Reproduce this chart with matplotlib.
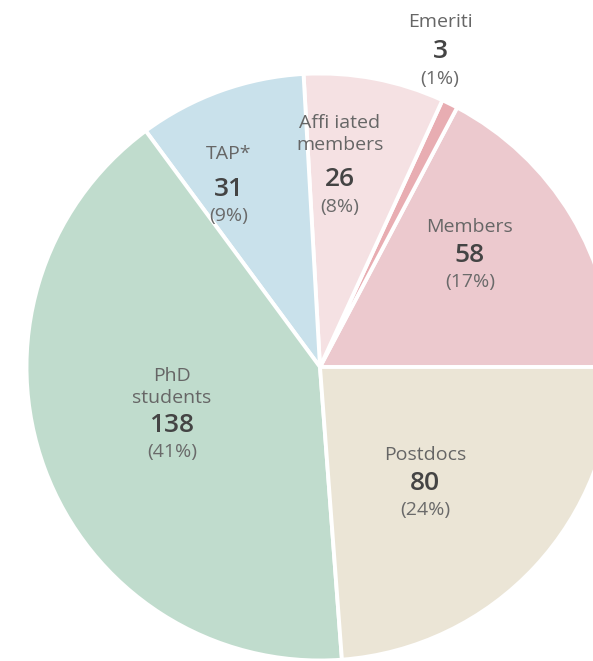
import matplotlib
matplotlib.use('Agg')
import matplotlib.pyplot as plt

# data
groups = ['Members', 'Emeriti', 'Affi iated\nmembers', 'TAP*', 'PhD\nstudents', 'Postdocs']
counts = [58, 3, 26, 31, 138, 80]
shares = ['(17%)', '(1%)', '(8%)', '(9%)', '(41%)', '(24%)']
colors = ['#ecc9ce', '#e8adb2', '#f5e1e3', '#c9e1eb', '#c0dccd', '#ebe5d6']

# label layout: pixel position of the count (top-left origin) and gap to the name above
label_pos = [(470, 255), (440, 52), (340, 180), (229, 189), (172, 425), (425, 483)]
name_gap = [30, 32, 37, 37, 29, 30]

W, H = 593, 661
CX, CY, R = 320, 367, 293.5

plt.rcParams['font.family'] = ['Open Sans', 'DejaVu Sans']

fig = plt.figure(figsize=(W / 100, H / 100), dpi=100)
ax = fig.add_axes([0, 0, 1, 1])
ax.pie(counts, colors=colors, startangle=0, counterclock=True,
       radius=1, wedgeprops=dict(edgecolor='white', linewidth=2.8))
ax.set_aspect('auto')
ax.set_xlim(-CX / R, (W - CX) / R)
ax.set_ylim(-(H - CY) / R, CY / R)
ax.axis('off')


def fx(px):
    return px / W


def fy(py):
    return 1 - py / H


for name, n, pct, (px, py), gap in zip(groups, counts, shares, label_pos, name_gap):
    fig.text(fx(px), fy(py - gap + 7), name, ha='center', va='baseline', fontsize=14,
             color='#666666', linespacing=1.3)
    fig.text(fx(px), fy(py), str(n), ha='center', va='center', fontsize=19,
             fontweight='semibold', color='#444444')
    fig.text(fx(px), fy(py + 27), pct, ha='center', va='center', fontsize=14,
             color='#6a6a6a')

fig.savefig('out.png', dpi=100)
